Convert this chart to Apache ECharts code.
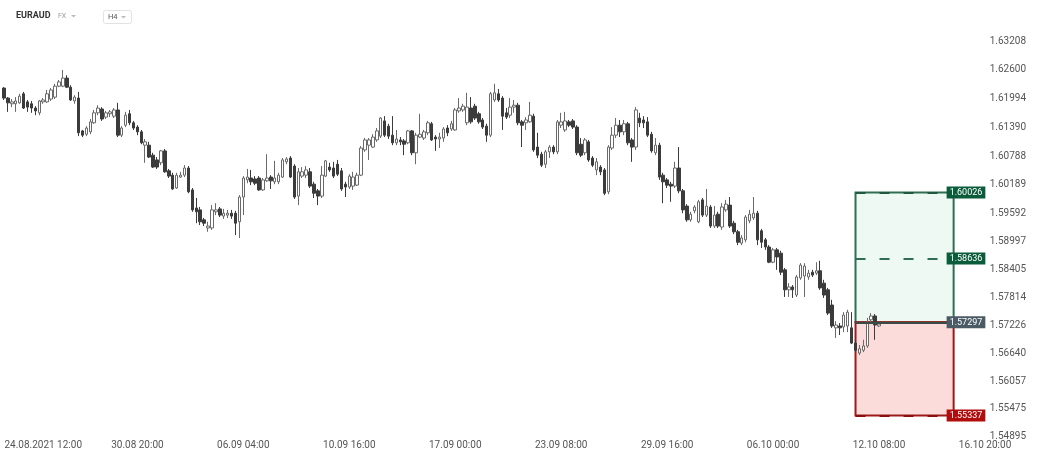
<!DOCTYPE html>
<html>
<head>
<meta charset="utf-8">
<script src="https://cdn.jsdelivr.net/npm/echarts@6/dist/echarts.min.js"></script>
<style>
html,body{margin:0;padding:0;background:#ffffff;}
#chart{width:1038px;height:457px;}
</style>
</head>
<body>
<div id="chart"></div>
<script>
// ---------- header ----------
const symbolName = 'EURAUD';
const marketName = 'FX';
const timeframe = 'H4';

// ---------- candles (H4), oldest first ----------
const openValues = [
1.6222,1.6201,1.6189,1.6189,1.6191,1.6210,1.6193,1.6189,1.6180,1.6170,
1.6193,1.6193,1.6199,1.6203,1.6226,1.6226,1.6243,1.6224,1.6195,1.6201,
1.6132,1.6125,1.6130,1.6149,1.6170,1.6178,1.6161,1.6168,1.6163,1.6176,
1.6123,1.6144,1.6168,1.6149,1.6140,1.6130,1.6102,1.6102,1.6081,1.6071,
1.6065,1.6090,1.6048,1.6039,1.6012,1.6035,1.6039,1.6054,1.6008,1.5970,
1.5966,1.5945,1.5928,1.5928,1.5962,1.5968,1.5953,1.5955,1.5959,1.5959,
1.5941,1.5993,1.6029,1.6033,1.6031,1.6033,1.6008,1.6027,1.6035,1.6025,
1.6025,1.6035,1.6067,1.6075,1.6058,1.5995,1.6037,1.6039,1.6046,1.6020,
1.6006,1.5995,1.6037,1.6056,1.6054,1.6062,1.6048,1.6020,1.6014,1.6016,
1.6018,1.6039,1.6092,1.6102,1.6098,1.6113,1.6121,1.6153,1.6142,1.6123,
1.6107,1.6113,1.6111,1.6107,1.6132,1.6086,1.6119,1.6117,1.6128,1.6147,
1.6119,1.6115,1.6117,1.6138,1.6136,1.6134,1.6174,1.6176,1.6149,1.6180,
1.6184,1.6168,1.6155,1.6142,1.6123,1.6197,1.6210,1.6201,1.6170,1.6165,
1.6182,1.6186,1.6151,1.6149,1.6151,1.6163,1.6098,1.6083,1.6062,1.6088,
1.6098,1.6088,1.6144,1.6134,1.6151,1.6153,1.6140,1.6104,1.6086,1.6109,
1.6075,1.6050,1.6056,1.6050,1.6004,1.6096,1.6123,1.6144,1.6130,1.6147,
1.6113,1.6098,1.6159,1.6155,1.6151,1.6125,1.6086,1.6102,1.6039,1.6029,
1.6020,1.6016,1.6054,1.6006,1.5974,1.5945,1.5964,1.5941,1.5987,1.5955,
1.5972,1.5932,1.5957,1.5930,1.5966,1.5976,1.5938,1.5920,1.5896,1.5903,
1.5943,1.5949,1.5959,1.5922,1.5903,1.5888,1.5856,1.5882,1.5875,1.5840,
1.5798,1.5804,1.5787,1.5823,1.5827,1.5825,1.5835,1.5833,1.5838,1.5812,
1.5798,1.5766,1.5718,1.5722,1.5720,1.5722,1.5718,1.5686,1.5665,1.5671,
1.5680,1.5735,1.5743,1.5722
];
const closeValues = [
1.6201,1.6191,1.6193,1.6195,1.6205,1.6180,1.6182,1.6180,1.6174,1.6195,
1.6197,1.6210,1.6218,1.6226,1.6235,1.6243,1.6224,1.6197,1.6203,1.6128,
1.6123,1.6138,1.6151,1.6170,1.6180,1.6157,1.6170,1.6172,1.6176,1.6123,
1.6138,1.6165,1.6149,1.6138,1.6130,1.6107,1.6109,1.6077,1.6056,1.6056,
1.6090,1.6046,1.6037,1.6010,1.6039,1.6039,1.6054,1.6004,1.5966,1.5962,
1.5941,1.5938,1.5932,1.5966,1.5966,1.5955,1.5959,1.5959,1.5953,1.5938,
1.5993,1.6033,1.6035,1.6025,1.6022,1.6008,1.6029,1.6033,1.6027,1.6033,
1.6039,1.6071,1.6073,1.6035,1.5993,1.6046,1.6046,1.6050,1.6016,1.6001,
1.5995,1.6039,1.6069,1.6050,1.6037,1.6041,1.6010,1.6014,1.6037,1.6035,
1.6039,1.6096,1.6113,1.6113,1.6119,1.6132,1.6159,1.6123,1.6121,1.6107,
1.6115,1.6109,1.6104,1.6132,1.6086,1.6123,1.6125,1.6130,1.6149,1.6113,
1.6115,1.6119,1.6136,1.6128,1.6147,1.6176,1.6180,1.6184,1.6182,1.6151,
1.6159,1.6151,1.6140,1.6123,1.6210,1.6212,1.6197,1.6163,1.6161,1.6182,
1.6186,1.6149,1.6144,1.6155,1.6165,1.6092,1.6081,1.6060,1.6088,1.6098,
1.6088,1.6151,1.6151,1.6153,1.6144,1.6140,1.6086,1.6081,1.6113,1.6071,
1.6060,1.6067,1.6046,1.6001,1.6098,1.6123,1.6144,1.6130,1.6147,1.6107,
1.6098,1.6176,1.6149,1.6149,1.6123,1.6090,1.6102,1.6035,1.6025,1.6018,
1.6016,1.6054,1.6006,1.5966,1.5945,1.5957,1.5972,1.5983,1.5955,1.5974,
1.5932,1.5955,1.5932,1.5972,1.5978,1.5932,1.5920,1.5898,1.5907,1.5951,
1.5957,1.5959,1.5903,1.5898,1.5888,1.5856,1.5882,1.5867,1.5835,1.5798,
1.5804,1.5798,1.5825,1.5850,1.5848,1.5833,1.5829,1.5838,1.5802,1.5787,
1.5749,1.5722,1.5724,1.5718,1.5745,1.5751,1.5686,1.5671,1.5674,1.5680,
1.5730,1.5743,1.5724,1.5726
];
const lowValues = [
1.6197,1.6172,1.6182,1.6172,1.6189,1.6178,1.6172,1.6170,1.6165,1.6165,
1.6189,1.6191,1.6195,1.6199,1.6224,1.6224,1.6222,1.6195,1.6189,1.6121,
1.6119,1.6121,1.6125,1.6147,1.6165,1.6153,1.6157,1.6161,1.6159,1.6119,
1.6119,1.6140,1.6144,1.6134,1.6123,1.6104,1.6065,1.6075,1.6054,1.6052,
1.6060,1.6044,1.6033,1.6008,1.6010,1.6033,1.6035,1.6001,1.5962,1.5938,
1.5934,1.5932,1.5920,1.5924,1.5955,1.5951,1.5947,1.5949,1.5947,1.5913,
1.5907,1.5955,1.6022,1.6018,1.6018,1.6006,1.6006,1.6025,1.6010,1.6020,
1.6020,1.6033,1.6062,1.6033,1.5989,1.5976,1.6033,1.6033,1.6012,1.5991,
1.5976,1.5991,1.6035,1.6046,1.6033,1.6037,1.6006,1.5993,1.6010,1.6008,
1.6016,1.6037,1.6088,1.6071,1.6096,1.6109,1.6117,1.6119,1.6115,1.6102,
1.6102,1.6102,1.6081,1.6104,1.6081,1.6062,1.6117,1.6113,1.6123,1.6111,
1.6090,1.6096,1.6109,1.6121,1.6132,1.6132,1.6170,1.6172,1.6144,1.6147,
1.6155,1.6147,1.6136,1.6109,1.6119,1.6193,1.6193,1.6134,1.6157,1.6159,
1.6170,1.6144,1.6098,1.6134,1.6149,1.6088,1.6075,1.6056,1.6054,1.6075,
1.6083,1.6083,1.6138,1.6130,1.6140,1.6136,1.6081,1.6077,1.6081,1.6067,
1.6056,1.6039,1.6039,1.5997,1.5999,1.6092,1.6117,1.6119,1.6123,1.6102,
1.6067,1.6092,1.6140,1.6138,1.6119,1.6086,1.6081,1.6029,1.5980,1.6012,
1.5983,1.6012,1.6001,1.5959,1.5941,1.5941,1.5959,1.5938,1.5951,1.5951,
1.5928,1.5928,1.5928,1.5924,1.5962,1.5928,1.5915,1.5892,1.5892,1.5898,
1.5938,1.5945,1.5892,1.5886,1.5882,1.5854,1.5854,1.5840,1.5829,1.5783,
1.5783,1.5781,1.5783,1.5819,1.5783,1.5819,1.5825,1.5829,1.5798,1.5781,
1.5745,1.5718,1.5697,1.5703,1.5709,1.5709,1.5684,1.5667,1.5661,1.5667,
1.5676,1.5730,1.5693,1.5720
];
const highValues = [
1.6224,1.6203,1.6199,1.6203,1.6210,1.6214,1.6197,1.6195,1.6184,1.6197,
1.6201,1.6218,1.6222,1.6231,1.6239,1.6260,1.6249,1.6228,1.6207,1.6214,
1.6134,1.6142,1.6157,1.6176,1.6186,1.6182,1.6174,1.6176,1.6180,1.6191,
1.6142,1.6172,1.6176,1.6153,1.6144,1.6134,1.6115,1.6109,1.6086,1.6077,
1.6092,1.6094,1.6052,1.6044,1.6044,1.6046,1.6060,1.6058,1.6012,1.5991,
1.5972,1.5949,1.5941,1.5976,1.5980,1.5972,1.5968,1.5966,1.5966,1.5964,
1.5997,1.6037,1.6052,1.6050,1.6037,1.6037,1.6033,1.6083,1.6039,1.6069,
1.6044,1.6075,1.6077,1.6079,1.6062,1.6054,1.6056,1.6058,1.6054,1.6025,
1.6010,1.6058,1.6071,1.6065,1.6067,1.6071,1.6054,1.6025,1.6041,1.6046,
1.6044,1.6100,1.6117,1.6117,1.6125,1.6138,1.6161,1.6163,1.6147,1.6163,
1.6134,1.6119,1.6115,1.6134,1.6134,1.6128,1.6168,1.6134,1.6153,1.6151,
1.6123,1.6128,1.6140,1.6144,1.6153,1.6180,1.6201,1.6189,1.6212,1.6203,
1.6189,1.6172,1.6159,1.6147,1.6214,1.6231,1.6220,1.6205,1.6180,1.6201,
1.6197,1.6191,1.6155,1.6161,1.6193,1.6168,1.6128,1.6088,1.6092,1.6102,
1.6102,1.6155,1.6170,1.6172,1.6155,1.6157,1.6144,1.6117,1.6117,1.6113,
1.6079,1.6075,1.6060,1.6054,1.6102,1.6140,1.6159,1.6155,1.6155,1.6151,
1.6117,1.6182,1.6170,1.6163,1.6161,1.6130,1.6117,1.6107,1.6044,1.6033,
1.6025,1.6067,1.6098,1.6010,1.5978,1.5962,1.5976,1.5987,1.5991,1.6010,
1.5976,1.5974,1.5962,1.5980,1.5987,1.5993,1.5943,1.5924,1.5913,1.5955,
1.5966,1.5993,1.5964,1.5926,1.5907,1.5892,1.5886,1.5886,1.5880,1.5844,
1.5812,1.5808,1.5829,1.5854,1.5854,1.5840,1.5840,1.5856,1.5859,1.5819,
1.5802,1.5777,1.5732,1.5728,1.5751,1.5756,1.5751,1.5693,1.5682,1.5693,
1.5739,1.5749,1.5747,1.5730
];

// ---------- axes ----------
const slotCount = 264;   // H4 slots on the time axis (incl. future)
const timeTickLabels = ['24.08.2021 12:00','30.08 20:00','06.09 04:00','10.09 16:00','17.09 00:00','23.09 08:00','29.09 16:00','06.10 00:00','12.10 08:00','16.10 20:00'];
const timeTickSlots = [10, 34, 61, 88, 115, 142, 169, 196, 223, 250];
const priceTicks = [1.54895,1.55475,1.56057,1.56640,1.57226,1.57814,1.58405,1.58997,1.59592,1.60189,1.60788,1.61390,1.61994,1.62600,1.63208];
const priceMin = 1.548864;
const priceMax = 1.634407;

// ---------- position tool ----------
const takeProfit = 1.60026;
const midTarget = 1.58636;
const entryPrice = 1.57297;
const stopLoss = 1.55337;
const toolStartSlot = 217;
const toolEndSlot = 242;

// ---------- build ----------
const FONT = 'Roboto, "Noto Sans", "DejaVu Sans", sans-serif';
const categories = Array.from({length: slotCount}, (_, i) => String(i));
const candleData = openValues.map((o, i) => [o, closeValues[i], lowValues[i], highValues[i]]);

function tag(value, bg) {
  return {
    show: true, position: 'end', distance: -7,
    formatter: value.toFixed(5),
    color: '#ffffff', backgroundColor: bg,
    fontSize: 9, fontFamily: FONT, lineHeight: 10,
    padding: [1, 3, 1, 3]
  };
}
function level(value, lineStyle, bg) {
  return [
    {coord: [toolStartSlot, value], lineStyle: lineStyle, label: tag(value, bg)},
    {coord: [toolEndSlot, value]}
  ];
}

const chart = echarts.init(document.getElementById('chart'), null, {renderer: 'canvas'});
chart.setOption({
  animation: false,
  backgroundColor: '#ffffff',
  grid: {left: 2, right: 0, top: 30, bottom: 20, containLabel: false},
  xAxis: {
    type: 'category',
    data: categories,
    boundaryGap: true,
    axisLine: {show: false},
    axisTick: {show: false},
    splitLine: {show: false},
    axisLabel: {
      interval: (idx) => timeTickSlots.indexOf(idx) >= 0,
      formatter: (v, idx) => {
        const k = timeTickSlots.indexOf(idx);
        return k >= 0 ? timeTickLabels[k] : '';
      },
      color: '#555555', fontSize: 10, fontFamily: FONT, margin: 3
    }
  },
  yAxis: {
    type: 'value',
    position: 'right',
    min: priceMin,
    max: priceMax,
    axisLine: {show: false},
    axisTick: {show: false},
    splitLine: {show: false},
    axisLabel: {
      inside: true,
      margin: 12,
      customValues: priceTicks,
      formatter: (v) => v.toFixed(5),
      color: '#555555', fontSize: 10, fontFamily: FONT
    }
  },
  series: [
    {
      type: 'line',
      data: [],
      z: 1,
      silent: true,
      markArea: {
        silent: true,
        data: [
          [
            {coord: [toolStartSlot, takeProfit], itemStyle: {color: '#eef9f4', borderColor: '#2f6e52', borderWidth: 2}},
            {coord: [toolEndSlot, entryPrice]}
          ],
          [
            {coord: [toolStartSlot, entryPrice], itemStyle: {color: '#fbdcdb', borderColor: '#9e1a1a', borderWidth: 2}},
            {coord: [toolEndSlot, stopLoss]}
          ]
        ]
      },
      markLine: {
        silent: true,
        symbol: ['none', 'none'],
        data: [
          level(takeProfit, {color: '#1f5a40', width: 2, type: [10, 14]}, '#0b5c3b'),
          level(midTarget, {color: '#2f6e52', width: 2, type: [10, 14]}, '#0b5c3b'),
          level(entryPrice, {color: '#3a4a47', width: 2, type: 'solid'}, '#4b5b66'),
          level(stopLoss, {color: '#8a1010', width: 2, type: [10, 14]}, '#b00d0d')
        ]
      }
    },
    {
      type: 'candlestick',
      data: candleData,
      z: 3,
      barWidth: 3,
      itemStyle: {
        color: '#ffffff',
        color0: '#3b3b3b',
        borderColor: '#6a6a6a',
        borderColor0: '#3b3b3b',
        borderWidth: 1
      }
    }
  ],
  graphic: [
    {type: 'text', left: 16, top: 11, style: {text: symbolName, font: 'bold 9px ' + FONT, fill: '#333333'}},
    {type: 'text', left: 58, top: 13, style: {text: marketName, font: '7px ' + FONT, fill: '#9a9a9a'}},
    {type: 'polygon', shape: {points: [[71, 15], [76, 15], [73.5, 17.5]]}, style: {fill: '#bcbcbc'}},
    {type: 'rect', shape: {x: 103.5, y: 10.5, width: 28, height: 13, r: 2}, style: {fill: '#ffffff', stroke: '#e2e2e2', lineWidth: 1}},
    {type: 'text', left: 108, top: 13, style: {text: timeframe, font: '7.5px ' + FONT, fill: '#555555'}},
    {type: 'polygon', shape: {points: [[121, 16], [126, 16], [123.5, 18.5]]}, style: {fill: '#bcbcbc'}}
  ]
});
</script>
</body>
</html>
